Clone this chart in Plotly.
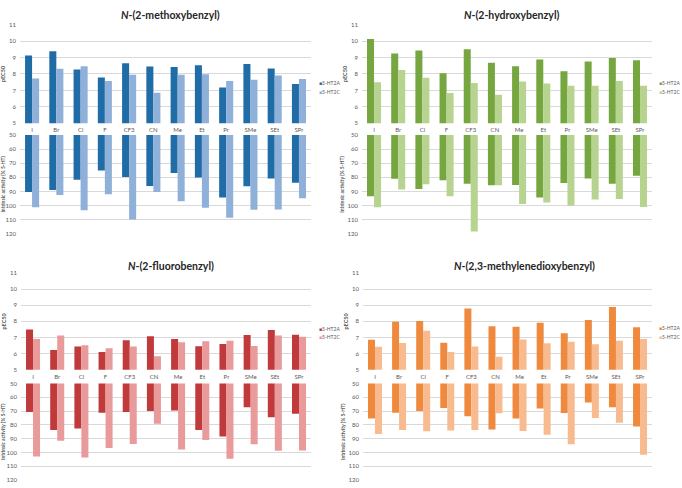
import plotly.graph_objects as go

categories = ["I", "Br", "Cl", "F", "CF3", "CN", "Me", "Et", "Pr", "SMe", "SEt", "SPr"]
series_names = ["5-HT2A", "5-HT2C"]
pec50_ticks = [5, 6, 7, 8, 9, 10, 11]
ia_ticks = [50, 60, 70, 80, 90, 100, 110, 120]

methoxy_pec50_2a = [9.12, 9.38, 8.28, 7.79, 8.66, 8.45, 8.43, 8.53, 7.18, 8.61, 8.34, 7.39]
methoxy_pec50_2c = [7.72, 8.32, 8.47, 7.58, 7.95, 6.85, 7.95, 7.99, 7.57, 7.65, 7.91, 7.69]
methoxy_ia_2a = [90.4, 89.0, 81.7, 75.2, 79.8, 86.2, 77.0, 80.2, 94.4, 86.4, 80.8, 83.8]
methoxy_ia_2c = [101.2, 92.5, 103.3, 92.0, 110.0, 90.4, 97.0, 101.6, 108.7, 103.1, 102.8, 94.9]

hydroxy_pec50_2a = [10.13, 9.25, 9.43, 8.05, 9.50, 8.68, 8.47, 8.88, 8.17, 8.76, 8.98, 8.83]
hydroxy_pec50_2c = [7.50, 8.25, 7.77, 6.84, 7.45, 6.73, 7.55, 7.42, 7.28, 7.28, 7.58, 7.28]
hydroxy_ia_2a = [93.4, 81.0, 88.3, 82.0, 84.5, 85.7, 85.5, 94.4, 84.1, 80.8, 84.5, 78.9]
hydroxy_ia_2c = [101.2, 88.7, 85.0, 93.5, 118.5, 85.7, 99.0, 97.9, 100.0, 95.8, 95.3, 101.0]

fluoro_pec50_2a = [7.50, 6.22, 6.44, 6.10, 6.82, 7.08, 6.90, 6.46, 6.60, 7.15, 7.47, 7.17]
fluoro_pec50_2c = [6.90, 7.12, 6.52, 6.33, 6.44, 5.83, 6.70, 6.76, 6.80, 6.47, 7.13, 7.05]
fluoro_ia_2a = [70.7, 83.8, 82.6, 71.2, 70.7, 70.0, 69.5, 83.8, 88.5, 67.2, 74.5, 71.9]
fluoro_ia_2c = [103.0, 91.5, 103.6, 96.7, 93.8, 79.1, 97.8, 91.0, 104.6, 94.0, 98.8, 98.5]

mdo_pec50_2a = [6.86, 7.98, 8.02, 6.68, 8.80, 7.70, 7.66, 7.92, 7.26, 8.08, 8.90, 7.64]
mdo_pec50_2c = [6.42, 6.66, 7.42, 6.10, 6.44, 5.80, 6.88, 6.64, 6.74, 6.58, 6.80, 6.90]
mdo_ia_2a = [75.4, 71.2, 70.0, 67.7, 73.8, 83.3, 75.4, 68.1, 71.4, 63.7, 67.2, 81.2]
mdo_ia_2c = [86.6, 83.8, 84.7, 84.0, 83.8, 71.6, 84.5, 87.1, 94.1, 75.0, 78.5, 101.6]

panel_titles = ["<i>N</i>-(2-methoxybenzyl)", "<i>N</i>-(2-hydroxybenzyl)",
                "<i>N</i>-(2-fluorobenzyl)", "<i>N</i>-(2,3-methylenedioxybenzyl)"]

W, H = 682, 488
FONT = "Lato"
TXT = "#595959"
GRID = "#d9d9d9"

panels = [
    dict(title=panel_titles[0], p2a=methoxy_pec50_2a, p2c=methoxy_pec50_2c,
         i2a=methoxy_ia_2a, i2c=methoxy_ia_2c, c2a="#1f6ca7", c2c="#8eb0d9",
         x=(18, 310), top=(21, 121), bot=(133, 233), tx=169, ty=11, lx=316, ly=(80, 89)),
    dict(title=panel_titles[1], p2a=hydroxy_pec50_2a, p2c=hydroxy_pec50_2c,
         i2a=hydroxy_ia_2a, i2c=hydroxy_ia_2c, c2a="#76a63f", c2c="#b6d48f",
         x=(361, 652), top=(21, 121), bot=(133, 233), tx=511, ty=11, lx=657, ly=(80, 89)),
    dict(title=panel_titles[2], p2a=fluoro_pec50_2a, p2c=fluoro_pec50_2c,
         i2a=fluoro_ia_2a, i2c=fluoro_ia_2c, c2a="#c0393b", c2c="#e99a9b",
         x=(19, 310), top=(273, 371), bot=(385, 483), tx=169, ty=266, lx=316, ly=(330, 338)),
    dict(title=panel_titles[3], p2a=mdo_pec50_2a, p2c=mdo_pec50_2c,
         i2a=mdo_ia_2a, i2c=mdo_ia_2c, c2a="#ef893d", c2c="#f8bb8f",
         x=(362, 652), top=(273, 371), bot=(385, 483), tx=524, ty=266, lx=657, ly=(329, 338)),
]

def fx(px):
    return px / W

def fy(py):
    return 1 - py / H

fig = go.Figure()
layout = dict(
    width=W, height=H, margin=dict(l=0, r=0, t=0, b=0),
    paper_bgcolor="white", plot_bgcolor="white",
    barmode="group", bargap=0.42, bargroupgap=0,
    showlegend=False, font=dict(family=FONT, color=TXT, size=6),
)
annotations = []

for i, p in enumerate(panels):
    ti, bi = 2 * i + 1, 2 * i + 2
    xt, yt = f"x{ti}", f"y{ti}"
    xb, yb = f"x{bi}", f"y{bi}"
    for vals, col, nm in [(p["p2a"], p["c2a"], series_names[0]), (p["p2c"], p["c2c"], series_names[1])]:
        fig.add_trace(go.Bar(x=categories, y=vals, name=nm, marker=dict(color=col, line=dict(width=0)),
                             xaxis=xt, yaxis=yt))
    for vals, col, nm in [(p["i2a"], p["c2a"], series_names[0]), (p["i2c"], p["c2c"], series_names[1])]:
        fig.add_trace(go.Bar(x=categories, y=vals, name=nm, marker=dict(color=col, line=dict(width=0)),
                             xaxis=xb, yaxis=yb))
    xdom = [fx(p["x"][0]), fx(p["x"][1])]
    sfx_t = "" if ti == 1 else str(ti)
    sfx_b = str(bi)
    layout["xaxis" + sfx_t] = dict(domain=xdom, anchor=yt, showgrid=False, showline=False,
                                   ticks="", tickfont=dict(size=6, color=TXT, family=FONT),
                                   ticklabelstandoff=2, fixedrange=True)
    layout["yaxis" + sfx_t] = dict(domain=[fy(p["top"][1]), fy(p["top"][0])], anchor=xt,
                                   range=[5, 11], tickvals=pec50_ticks, showgrid=True,
                                   gridcolor=GRID, gridwidth=1, zeroline=False, showline=False,
                                   tickfont=dict(size=6, color=TXT, family=FONT), ticks="",
                                   ticklabelstandoff=3,
                                   title=dict(text="<b>pEC50</b>", font=dict(size=5.5, color=TXT, family=FONT),
                                              standoff=3))
    layout["xaxis" + sfx_b] = dict(domain=xdom, anchor=yb, showgrid=False, showline=False,
                                   showticklabels=False, ticks="", fixedrange=True)
    layout["yaxis" + sfx_b] = dict(domain=[fy(p["bot"][1]), fy(p["bot"][0])], anchor=xb,
                                   range=[120, 50], tickvals=ia_ticks, showgrid=True,
                                   gridcolor=GRID, gridwidth=1, zeroline=False, showline=False,
                                   tickfont=dict(size=6, color=TXT, family=FONT), ticks="",
                                   ticklabelstandoff=3,
                                   title=dict(text="<b>Intrinsic activity (% 5-HT)</b>",
                                              font=dict(size=5, color=TXT, family=FONT), standoff=2))
    annotations.append(dict(text="<b>" + p["title"] + "</b>", x=fx(p["tx"]), y=fy(p["ty"]),
                            xref="paper", yref="paper", xanchor="center", yanchor="middle",
                            showarrow=False, font=dict(size=10.5, color="#262626", family=FONT)))
    for nm, col, ly in [(series_names[0], p["c2a"], p["ly"][0]), (series_names[1], p["c2c"], p["ly"][1])]:
        annotations.append(dict(text=f"<span style='color:{col}'>■</span>{nm}", x=fx(p["lx"]), y=fy(ly),
                                xref="paper", yref="paper", xanchor="left", yanchor="middle",
                                showarrow=False, font=dict(size=5, color=TXT, family=FONT)))

layout["annotations"] = annotations
fig.update_layout(**layout)
fig.write_html("out.html",
               config={"displayModeBar": False, "staticPlot": True},
               post_script="document.body.style.margin='0';document.body.style.overflow='hidden';")
